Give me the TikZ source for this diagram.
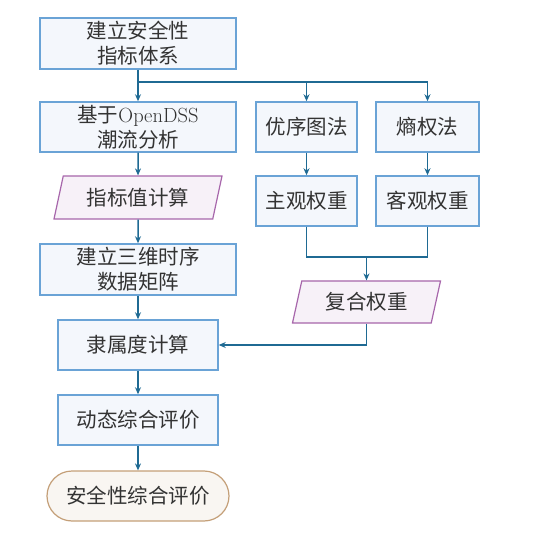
\documentclass[tikz,border=0pt]{standalone}
\usepackage{fontspec}
\newfontfamily\cjk{Noto Sans CJK SC}
\usetikzlibrary{shapes.geometric,arrows.meta}
\definecolor{boxline}{HTML}{6AA3D6}
\definecolor{boxfill}{HTML}{F4F7FC}
\definecolor{datline}{HTML}{A766AB}
\definecolor{datfill}{HTML}{F7F1F8}
\definecolor{endline}{HTML}{C49F78}
\definecolor{endfill}{HTML}{F9F6F2}
\definecolor{arr}{HTML}{1F6A93}
\definecolor{txt}{HTML}{333333}
\tikzset{
  proc/.style={draw=boxline,fill=boxfill,line width=1.5pt,text=txt,align=center,
    inner sep=0pt,font=\cjk\fontsize{20.5}{25}\selectfont},
  datbox/.style={trapezium,trapezium left angle=64,trapezium right angle=116,
    trapezium stretches body,draw=datline,fill=datfill,line width=1.2pt,text=txt,
    inner sep=0pt,font=\cjk\fontsize{20.5}{25}\selectfont},
  endbox/.style={draw=endline,fill=endfill,line width=1.2pt,rounded corners=25pt,text=txt,
    inner sep=0pt,font=\cjk\fontsize{20.5}{25}\selectfont},
  flow/.style={draw=arr,line width=1.5pt,-{Stealth[length=7pt,width=6pt]}},
  link/.style={draw=arr,line width=1.5pt}
}
\begin{document}
\begin{tikzpicture}[x=1pt,y=-1pt]
\useasboundingbox (0,0) rectangle (546,545);
% left column
\node[proc,minimum width=196pt,minimum height=51pt] (sys) at (138,43.5) {建立安全性\\指标体系};
\node[proc,minimum width=196pt,minimum height=50pt] (pf) at (138,127) {基于{\normalfont OpenDSS}\\潮流分析};
\node[datbox,minimum width=168pt,minimum height=43pt] (val) at (138,197.5) {指标值计算};
\node[proc,minimum width=196pt,minimum height=51pt] (mat) at (138,269.5) {建立三维时序\\数据矩阵};
\node[proc,minimum width=160pt,minimum height=50pt] (mem) at (138,345) {隶属度计算};
\node[proc,minimum width=160pt,minimum height=50pt] (dyn) at (138,420) {动态综合评价};
\node[endbox,minimum width=182pt,minimum height=50pt] (res) at (138,496) {安全性综合评价};
% weights
\node[proc,minimum width=101pt,minimum height=50pt] (ord) at (306.5,127) {优序图法};
\node[proc,minimum width=103pt,minimum height=50pt] (ent) at (427.5,127) {熵权法};
\node[proc,minimum width=101pt,minimum height=50pt] (sub) at (306.5,201) {主观权重};
\node[proc,minimum width=103pt,minimum height=50pt] (obj) at (427.5,201) {客观权重};
\node[datbox,minimum width=148pt,minimum height=42pt] (cmb) at (366.5,302) {复合权重};
\coordinate (br) at (138,82);
\coordinate (mg) at (366.5,257);
% connectors
\draw[flow] (sys) -- (pf);
\draw[flow] (br) -| (ord);
\draw[flow] (br) -| (ent);
\draw[flow] (pf) -- (val);
\draw[flow] (val) -- (mat);
\draw[flow] (mat) -- (mem);
\draw[flow] (mem) -- (dyn);
\draw[flow] (dyn) -- (res);
\draw[flow] (ord) -- (sub);
\draw[flow] (ent) -- (obj);
\draw[link] (sub) |- (mg);
\draw[link] (obj) |- (mg);
\draw[flow] (mg) -- (cmb);
\draw[flow] (cmb) |- (mem);
\end{tikzpicture}
\end{document}
